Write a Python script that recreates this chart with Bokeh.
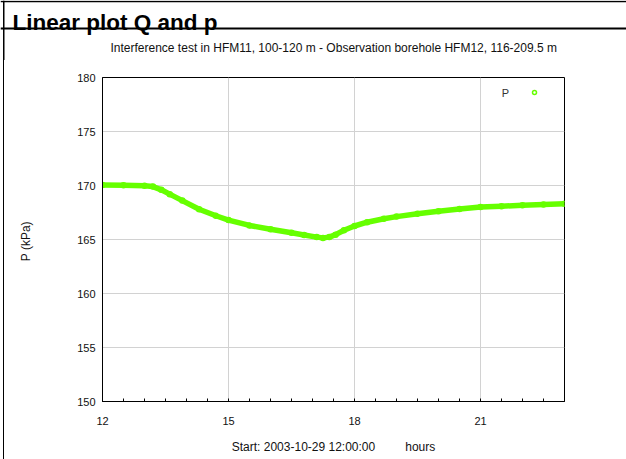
from bokeh.plotting import figure
from bokeh.layouts import column, row
from bokeh.models import Legend, LegendItem, Label, FixedTicker, Range1d, Span, Div
from bokeh.core.properties import value
from bokeh.embed import file_html
from bokeh.resources import INLINE

# ---- data ----
hours = [12.0, 12.5, 13.0, 13.2, 13.4, 13.6, 13.9, 14.3, 14.7, 15.0, 15.5, 16.0,
         16.5, 16.8, 17.1, 17.25, 17.4, 17.55, 17.75, 18.0, 18.3, 18.7, 19.0,
         19.5, 20.0, 20.5, 21.0, 21.5, 22.0, 22.5, 23.0]
pressure = [170.05, 170.02, 169.97, 169.9, 169.6, 169.2, 168.6, 167.8, 167.2,
            166.8, 166.3, 165.95, 165.62, 165.42, 165.22, 165.15, 165.22, 165.45,
            165.85, 166.25, 166.6, 166.92, 167.12, 167.38, 167.62, 167.83, 168.0,
            168.08, 168.17, 168.24, 168.3]
x_ticks = [12, 15, 18, 21]
x_minor = [12 + 0.5 * i for i in range(23)]
y_ticks = [150, 155, 160, 165, 170, 175, 180]

title_text = "Linear plot Q and p"
subtitle_text = "Interference test in HFM11, 100-120 m - Observation borehole HFM12, 116-209.5 m"
x_label = "Start: 2003-10-29 12:00:00" + "\u00a0" * 9 + "hours"
y_label = "P  (kPa)"
series_name = "P"

FONT = "Liberation Sans"
GREEN = "#66ff00"
TXT = "#111111"

# ---- header band (title box + subtitle) ----
top = figure(width=626, height=60, x_range=Range1d(0, 626), y_range=Range1d(60, 0),
             output_backend="svg", toolbar_location=None,
             x_axis_location=None, y_axis_location=None,
             min_border_left=0, min_border_right=0, min_border_top=0,
             min_border_bottom=0)
top.grid.visible = False
top.outline_line_color = None
top.background_fill_color = "white"
top.border_fill_color = "white"
top.add_layout(Span(location=1, dimension="width", line_color="black", line_width=1.5))
top.add_layout(Span(location=28, dimension="width", line_color="black", line_width=2))
top.add_layout(Span(location=3.25, dimension="height", line_color="black", line_width=1.5))
top.add_layout(Label(x=12, y=22, text=title_text, text_font=FONT,
                     text_font_size="22.5px", text_font_style="bold",
                     text_baseline="alphabetic", text_color="black"))
top.add_layout(Label(x=110, y=47, text=subtitle_text, text_font=FONT,
                     text_font_size="12px", text_baseline="alphabetic", text_color=TXT))

# ---- left border line beside the main plot ----
edge = Div(text="", width=4, height=399, margin=0,
           styles={"box-sizing": "border-box", "border-right": "1.5px solid black"})

# ---- main plot ----
p = figure(width=622, height=399, x_range=Range1d(12, 23), y_range=Range1d(150, 180),
           output_backend="svg", toolbar_location=None,
           min_border_left=98, min_border_right=62, min_border_top=17,
           min_border_bottom=58)
p.background_fill_color = "white"
p.border_fill_color = "white"
p.outline_line_color = "black"
p.outline_line_width = 1

sc = p.scatter(hours, pressure, marker="circle", size=5, fill_color=None,
               line_color=GREEN, line_width=1.5)
p.line(hours, pressure, line_width=5.5, line_color=GREEN, line_cap="round",
       line_join="round")

xa = p.xaxis[0]
xa.ticker = FixedTicker(ticks=x_ticks, minor_ticks=x_minor)
xa.major_tick_in = 0
xa.major_tick_out = 0
xa.minor_tick_in = 3
xa.minor_tick_out = 0
xa.minor_tick_line_color = "black"
xa.major_label_standoff = 15
xa.axis_label = x_label
xa.axis_label_standoff = 12
ya = p.yaxis[0]
ya.ticker = FixedTicker(ticks=y_ticks, minor_ticks=[])
ya.major_tick_in = 0
ya.major_tick_out = 0
ya.minor_tick_in = 0
ya.minor_tick_out = 0
ya.major_label_standoff = 7
ya.axis_label = y_label
ya.axis_label_standoff = 41
for ax in (xa, ya):
    ax.axis_line_color = "black"
    ax.axis_line_width = 1
    ax.major_label_text_font = FONT
    ax.major_label_text_font_size = "11px"
    ax.major_label_text_color = TXT
    ax.axis_label_text_font = FONT
    ax.axis_label_text_font_size = "12px"
    ax.axis_label_text_font_style = "normal"
    ax.axis_label_text_color = TXT

p.xgrid.ticker = FixedTicker(ticks=x_ticks)
p.ygrid.ticker = FixedTicker(ticks=y_ticks)
for g in (p.xgrid[0], p.ygrid[0]):
    g.grid_line_color = "#d2d2d2"
    g.grid_line_width = 1

# legend: the "P" text sits to the left of the small open circle
legend = Legend(items=[LegendItem(label=value(" "), renderers=[sc])],
                location=(427, 304), glyph_width=10, glyph_height=10,
                label_standoff=0, padding=0, margin=0, spacing=0,
                label_height=10, label_width=2, border_line_alpha=0,
                background_fill_alpha=0, label_text_font=FONT,
                label_text_font_size="8px")
p.add_layout(legend)
p.add_layout(Label(x=403, y=309, x_units="screen", y_units="screen", text=series_name,
                   text_font=FONT, text_font_size="11px", text_align="center",
                   text_baseline="middle", text_color="#333333"))

layout = column(top, row(edge, p, spacing=0), spacing=0)
open("out.html", "w").write(file_html(layout, INLINE))
